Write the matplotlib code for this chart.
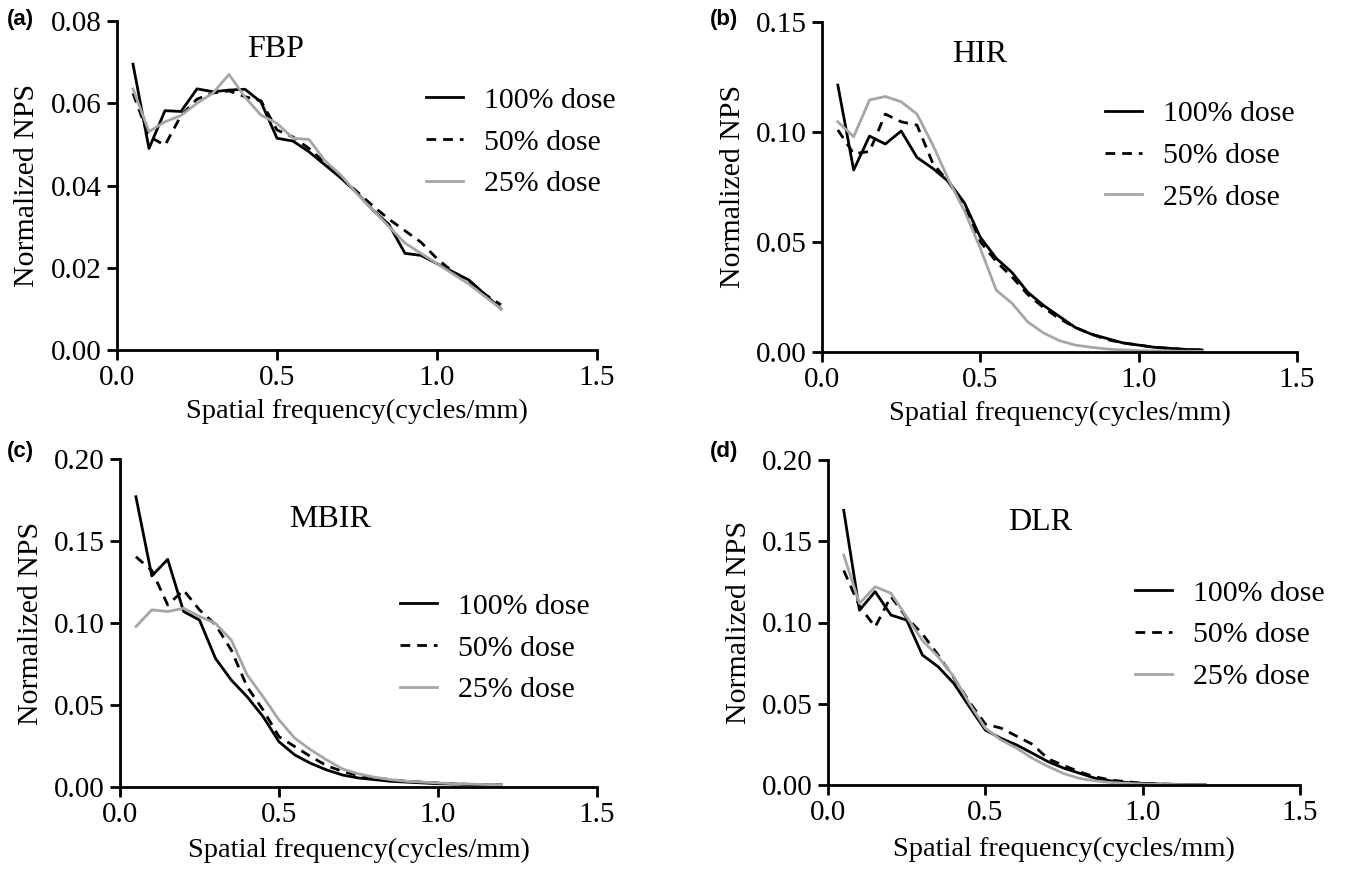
import numpy as np
import matplotlib
matplotlib.use("Agg")
import matplotlib.pyplot as plt
from matplotlib.ticker import FormatStrFormatter

plt.rcParams['font.family'] = ['Liberation Serif', 'DejaVu Serif']

freq = [0.05, 0.10, 0.15, 0.20, 0.25, 0.30, 0.35, 0.40, 0.45, 0.50, 0.55, 0.60,
        0.65, 0.70, 0.75, 0.80, 0.85, 0.90, 0.95, 1.00, 1.05, 1.10, 1.15, 1.20]

labels = ["100% dose", "50% dose", "25% dose"]

# (a) FBP
fbp_100 = [0.0695, 0.0490, 0.0582, 0.0580, 0.0635, 0.0628, 0.0632, 0.0634, 0.0603, 0.0515, 0.0508, 0.0482,
           0.0450, 0.0418, 0.0382, 0.0340, 0.0305, 0.0235, 0.0230, 0.0210, 0.0190, 0.0170, 0.0135, 0.0100]
fbp_50 = [0.0624, 0.0519, 0.0498, 0.0570, 0.0610, 0.0625, 0.0630, 0.0616, 0.0606, 0.0535, 0.0518, 0.0490,
          0.0455, 0.0420, 0.0385, 0.0350, 0.0318, 0.0290, 0.0262, 0.0222, 0.0190, 0.0165, 0.0135, 0.0110]
fbp_25 = [0.0635, 0.0531, 0.0555, 0.0570, 0.0600, 0.0625, 0.0670, 0.0615, 0.0571, 0.0551, 0.0515, 0.0512,
          0.0460, 0.0425, 0.0380, 0.0340, 0.0300, 0.0260, 0.0235, 0.0210, 0.0185, 0.0160, 0.0130, 0.0100]

# (b) HIR
hir_100 = [0.1212, 0.0826, 0.0980, 0.0944, 0.1003, 0.0883, 0.0833, 0.0773, 0.0676, 0.0520, 0.0425, 0.0360,
           0.0270, 0.0210, 0.0160, 0.0110, 0.0080, 0.0060, 0.0040, 0.0030, 0.0020, 0.0015, 0.0010, 0.0008]
hir_50 = [0.1008, 0.0900, 0.0910, 0.1080, 0.1045, 0.1030, 0.0856, 0.0770, 0.0660, 0.0500, 0.0410, 0.0340,
          0.0260, 0.0200, 0.0150, 0.0110, 0.0080, 0.0055, 0.0040, 0.0030, 0.0020, 0.0015, 0.0010, 0.0008]
hir_25 = [0.1045, 0.0977, 0.1144, 0.1160, 0.1136, 0.1080, 0.0940, 0.0780, 0.0640, 0.0470, 0.0280, 0.0220,
          0.0135, 0.0085, 0.0050, 0.0030, 0.0020, 0.0012, 0.0008, 0.0005, 0.0004, 0.0003, 0.0002, 0.0002]

# (c) MBIR
mbir_100 = [0.1770, 0.1287, 0.1388, 0.1070, 0.1018, 0.0785, 0.0652, 0.0550, 0.0429, 0.0276, 0.0195, 0.0144,
            0.0104, 0.0073, 0.0055, 0.0045, 0.0035, 0.0030, 0.0025, 0.0020, 0.0018, 0.0015, 0.0013, 0.0012]
mbir_50 = [0.1404, 0.1320, 0.1110, 0.1200, 0.1080, 0.0990, 0.0835, 0.0610, 0.0470, 0.0307, 0.0246, 0.0185,
           0.0130, 0.0095, 0.0070, 0.0055, 0.0045, 0.0035, 0.0030, 0.0025, 0.0020, 0.0016, 0.0014, 0.0012]
mbir_25 = [0.0978, 0.1080, 0.1070, 0.1090, 0.1040, 0.0998, 0.0896, 0.0683, 0.0550, 0.0409, 0.0297, 0.0226,
           0.0165, 0.0110, 0.0080, 0.0060, 0.0045, 0.0035, 0.0030, 0.0025, 0.0020, 0.0018, 0.0015, 0.0013]

# (d) DLR
dlr_100 = [0.1690, 0.1076, 0.1190, 0.1046, 0.1015, 0.0800, 0.0728, 0.0625, 0.0480, 0.0338, 0.0287, 0.0246,
           0.0195, 0.0143, 0.0103, 0.0072, 0.0041, 0.0025, 0.0015, 0.0010, 0.0006, 0.0004, 0.0003, 0.0002]
dlr_50 = [0.1320, 0.1100, 0.0973, 0.1160, 0.1030, 0.0930, 0.0800, 0.0660, 0.0510, 0.0375, 0.0350, 0.0300,
          0.0250, 0.0160, 0.0120, 0.0080, 0.0050, 0.0030, 0.0020, 0.0010, 0.0006, 0.0004, 0.0003, 0.0002]
dlr_25 = [0.1415, 0.1117, 0.1220, 0.1180, 0.1035, 0.0890, 0.0790, 0.0666, 0.0500, 0.0350, 0.0277, 0.0226,
          0.0164, 0.0113, 0.0070, 0.0040, 0.0025, 0.0015, 0.0010, 0.0006, 0.0004, 0.0003, 0.0002, 0.0002]

panels = [
    dict(tag="(a)", title="FBP", series=(fbp_100, fbp_50, fbp_25), ymax=0.08, ystep=0.02,
         rect=[117/1349, 1-350/877, 480/1349, 329/877], title_xy=(0.33, 0.912), leg_xy=(0.644, 0.80),
         tag_xy=(7/1349, 1-20/877), xl=-0.148),
    dict(tag="(b)", title="HIR", series=(hir_100, hir_50, hir_25), ymax=0.15, ystep=0.05,
         rect=[822/1349, 1-351.7/877, 475/1349, 330/877], title_xy=(0.333, 0.902), leg_xy=(0.596, 0.762),
         tag_xy=(710/1349, 1-20/877), xl=-0.148),
    dict(tag="(c)", title="MBIR", series=(mbir_100, mbir_50, mbir_25), ymax=0.20, ystep=0.05,
         rect=[120/1349, 1-787/877, 477/1349, 328/877], title_xy=(0.44, 0.817), leg_xy=(0.587, 0.592),
         tag_xy=(7/1349, 1-452/877), xl=-0.155),
    dict(tag="(d)", title="DLR", series=(dlr_100, dlr_50, dlr_25), ymax=0.20, ystep=0.05,
         rect=[828/1349, 1-785/877, 472/1349, 325/877], title_xy=(0.449, 0.809), leg_xy=(0.65, 0.632),
         tag_xy=(710/1349, 1-452/877), xl=-0.16),
]

styles = [dict(color="black", linestyle="-", lw=2.0),
          dict(color="black", linestyle=(0, (3.5, 2.5)), lw=2.0),
          dict(color="#a6a6a6", linestyle="-", lw=2.0)]

fig = plt.figure(figsize=(13.49, 8.77), dpi=100)

for p in panels:
    ax = fig.add_axes(p["rect"])
    for s, st, lab in zip(p["series"], styles, labels):
        ax.plot(freq, s, label=lab, **st)
    ax.set_xlim(0, 1.5)
    ax.set_ylim(0, p["ymax"])
    ax.set_xticks([0.0, 0.5, 1.0, 1.5])
    ax.set_yticks(np.arange(0, p["ymax"] + 1e-9, p["ystep"]))
    ax.xaxis.set_major_formatter(FormatStrFormatter("%.1f"))
    ax.yaxis.set_major_formatter(FormatStrFormatter("%.2f"))
    for sp in ["top", "right"]:
        ax.spines[sp].set_visible(False)
    for sp in ["left", "bottom"]:
        ax.spines[sp].set_linewidth(2.0)
    ax.tick_params(axis="both", direction="out", length=7, width=2.0, labelsize=21, pad=4)
    ax.set_xlabel("Spatial frequency(cycles/mm)", fontsize=20.5)
    ax.set_ylabel("Normalized NPS", fontsize=21.5)
    ax.xaxis.set_label_coords(0.5, p["xl"])
    ax.yaxis.set_label_coords(-0.16, 0.5)
    ax.text(p["title_xy"][0], p["title_xy"][1], p["title"], transform=ax.transAxes,
            ha="center", va="center", fontsize=23)
    ax.legend(loc="upper left", bbox_to_anchor=p["leg_xy"], frameon=False, fontsize=21.5,
              handlelength=1.25, handletextpad=0.7, labelspacing=0.5, borderpad=0, borderaxespad=0)
    fig.text(p["tag_xy"][0], p["tag_xy"][1], p["tag"], ha="left", va="center", fontsize=16,
             fontweight="bold", family=["Liberation Sans", "DejaVu Sans"])

fig.savefig("out.png", dpi=100)
